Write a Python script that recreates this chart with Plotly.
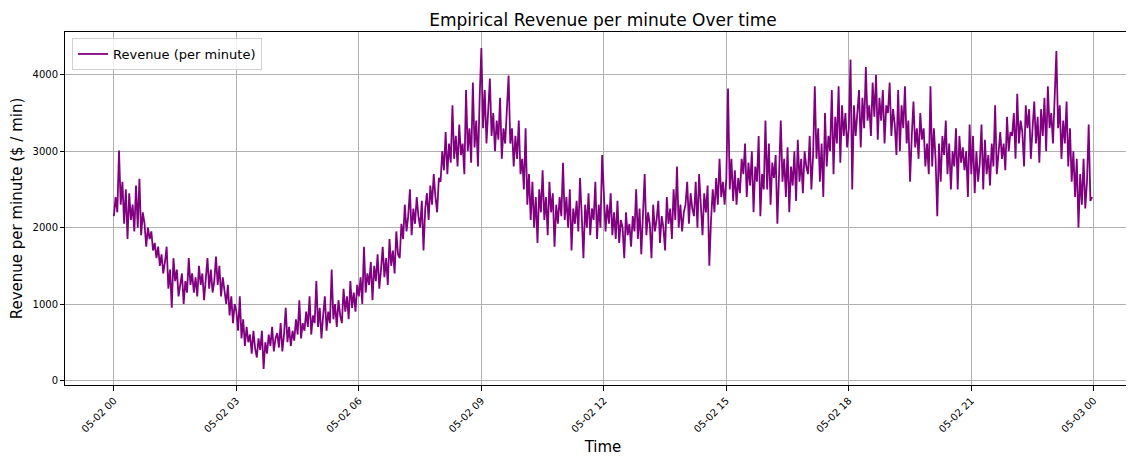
import pandas as pd
import plotly.graph_objects as go

# 2.5-minute samples (24 per hour)
h00 = [2150, 2400, 2200, 3010, 2300, 2600, 2050, 2500, 1850, 2450, 2100, 2300, 1950, 2550, 2000, 2640, 1900, 2200, 2050, 1750, 2000, 1850, 1950, 1700]
h01 = [1800, 1600, 1750, 1500, 1650, 1400, 1550, 1750, 1200, 1450, 950, 1600, 1300, 1450, 1100, 1250, 1400, 1000, 1300, 1150, 1600, 1250, 1400, 1150]
h02 = [1350, 1100, 1500, 1250, 1400, 1050, 1300, 1600, 1200, 1450, 1150, 1300, 1620, 1250, 1500, 1100, 1350, 1200, 1000, 1250, 850, 1100, 750, 1000]
h03 = [900, 650, 1100, 550, 800, 450, 700, 500, 600, 350, 650, 420, 300, 550, 400, 650, 150, 500, 350, 600, 450, 700, 380, 550]
h04 = [620, 430, 750, 380, 600, 950, 500, 700, 450, 650, 520, 800, 600, 1050, 550, 750, 650, 900, 700, 1100, 600, 850, 750, 1300]
h05 = [700, 950, 550, 850, 1100, 650, 900, 750, 1450, 800, 1000, 700, 1050, 850, 750, 1200, 900, 1100, 800, 1300, 950, 1150, 900, 1250]
h06 = [1100, 1350, 1000, 1750, 1150, 1400, 1250, 1550, 1050, 1500, 1300, 1650, 1200, 1450, 1750, 1350, 1600, 1250, 1850, 1500, 1700, 1400, 1950, 1650]
h07 = [1600, 2050, 1850, 2300, 1950, 2150, 2500, 1900, 2250, 2050, 2400, 2150, 2000, 2350, 1700, 2250, 2450, 2100, 2550, 2300, 2700, 2400, 2200, 2650]
h08 = [2600, 3000, 2750, 3250, 2700, 3100, 2850, 3600, 2900, 3200, 2800, 3350, 2950, 3100, 2700, 3800, 3000, 3300, 2850, 3900, 3050, 3400, 2800, 3700]
h09 = [4350, 3300, 3800, 3100, 3600, 3950, 3200, 3500, 3000, 3400, 3150, 3700, 2900, 3300, 3100, 3600, 3990, 3100, 3300, 2800, 3200, 2900, 3400, 2700]
h10 = [2900, 2500, 3300, 2300, 2700, 2100, 2600, 2000, 2400, 1800, 2500, 2200, 2750, 2100, 2400, 1900, 2600, 2200, 2450, 1750, 2300, 2050, 2400, 2150]
h11 = [2850, 2100, 2400, 2000, 2500, 1700, 2250, 2050, 2350, 1950, 2650, 2150, 1600, 2300, 2000, 2450, 1900, 2250, 2100, 2600, 1850, 2300, 2000, 2950]
h12 = [2400, 1950, 2300, 2050, 2450, 1900, 2200, 1850, 2350, 1800, 2100, 2000, 1600, 2200, 1900, 2050, 1750, 2150, 1950, 2500, 1850, 2250, 1650, 2100]
h13 = [2700, 1900, 2200, 2050, 1600, 2300, 1950, 2100, 2350, 1800, 2150, 2000, 1700, 2400, 2050, 2250, 1850, 2500, 2100, 2800, 2000, 2300, 1950, 2200]
h14 = [2300, 2600, 2050, 2450, 2250, 2150, 2600, 2000, 2700, 2300, 1900, 2450, 2200, 2550, 1500, 2100, 2500, 2200, 2650, 2300, 2900, 2400, 2600, 2300]
h15 = [2650, 3820, 2500, 2900, 2350, 2750, 2300, 2650, 2450, 2900, 2700, 3100, 2400, 2850, 2550, 3000, 2200, 2800, 2600, 3200, 2150, 2700, 2500, 3400]
h16 = [2500, 3100, 2300, 2850, 2650, 2950, 2050, 2700, 3400, 2600, 2900, 2400, 3050, 2200, 2800, 2550, 3000, 2350, 3150, 2600, 2900, 2450, 3000, 2800]
h17 = [2700, 3200, 2500, 2950, 3850, 2900, 3300, 2600, 3100, 2400, 3500, 2800, 3200, 3000, 3800, 2700, 3450, 3100, 3850, 2850, 3600, 3200, 3500, 3050]
h18 = [3300, 4200, 2500, 3600, 3200, 3500, 3800, 3050, 3700, 3300, 4100, 3400, 3600, 3200, 3900, 3450, 4000, 3150, 3700, 3400, 3800, 3100, 3600, 3500]
h19 = [3900, 3200, 3550, 3350, 2950, 3800, 3000, 3600, 3300, 3850, 3100, 3400, 2600, 3200, 3650, 3050, 3300, 2900, 3500, 3150, 3300, 2800, 3100, 2700]
h20 = [3850, 2800, 3300, 2900, 2150, 3100, 2600, 3200, 2950, 3400, 2700, 3100, 2500, 3000, 2800, 3300, 2500, 3200, 2850, 3050, 2750, 3000, 2400, 3350]
h21 = [2700, 3200, 2450, 3000, 2600, 2850, 3350, 2500, 3150, 2700, 2950, 2550, 3100, 2800, 3600, 2700, 3000, 3250, 2900, 3100, 2750, 3450, 3000, 3250]
h22 = [3200, 3500, 2900, 3750, 3100, 3400, 3250, 2800, 3600, 3300, 3550, 2900, 3300, 3650, 3100, 3450, 2850, 3550, 3200, 3700, 3000, 3850, 3300, 3500]
h23 = [3100, 3600, 4310, 3300, 3600, 2900, 3400, 3100, 3650, 2800, 3300, 2600, 3000, 2400, 2900, 2000, 2700, 2300, 2900, 2250, 2600, 3350, 2350, 2400]

revenue = (h00 + h01 + h02 + h03 + h04 + h05 + h06 + h07 + h08 + h09 + h10 + h11
           + h12 + h13 + h14 + h15 + h16 + h17 + h18 + h19 + h20 + h21 + h22 + h23)
times = pd.date_range("2024-05-02 00:00", periods=len(revenue), freq="150s")

tick_vals = pd.date_range("2024-05-02 00:00", "2024-05-03 00:00", freq="3h")
tick_text = [t.strftime("%m-%d %H") for t in tick_vals]

t0 = times[0]
t_end = times[-1]
span = t_end - t0
x_range = [t0 - span * 0.05, t_end + span * 0.05]
ymin, ymax = min(revenue), max(revenue)
yspan = ymax - ymin
y_range = [ymin - 0.05 * yspan, ymax + 0.05 * yspan]

fig = go.Figure()
fig.add_trace(go.Scatter(
    x=times, y=revenue, mode="lines", name="Revenue (per minute)",
    line=dict(color="#800080", width=1.8),
))

# page body adds an 8px offset; the reference's right edge of the axes is cropped off
W, H = 1134, 448
font = "DejaVu Sans, Arial, sans-serif"
fig.update_layout(
    width=W, height=H,
    margin=dict(l=57, r=1, t=24, b=71, autoexpand=False),
    paper_bgcolor="white", plot_bgcolor="white",
    font=dict(family=font, color="black", size=10),
    title=dict(text="Empirical Revenue per minute Over time", x=0.5, xanchor="center",
               xref="paper", yref="container", y=1 - 12 / H, yanchor="middle",
               font=dict(size=17)),
    showlegend=True,
    legend=dict(x=0.0065, y=0.983, xanchor="left", yanchor="top",
                bgcolor="rgba(255,255,255,0.8)", bordercolor="#d0d0d0", borderwidth=1,
                font=dict(size=13)),
)
fig.update_xaxes(
    range=x_range, tickvals=tick_vals, ticktext=tick_text, tickangle=-45,
    showgrid=True, gridcolor="#b0b0b0", gridwidth=1,
    showline=True, linecolor="black", linewidth=1, mirror=True,
    ticks="outside", ticklen=5, tickcolor="black", automargin=False,
    title=dict(text="Time", font=dict(size=15), standoff=8),
    zeroline=False,
)
fig.update_yaxes(
    range=y_range, tickvals=[0, 1000, 2000, 3000, 4000],
    showgrid=True, gridcolor="#b0b0b0", gridwidth=1,
    showline=True, linecolor="black", linewidth=1, mirror=True,
    ticks="outside", ticklen=4, tickcolor="black", automargin=False,
    title=dict(text="Revenue per minute ($ / min)", font=dict(size=15), standoff=8),
    zeroline=False,
)

fig.write_html("out.html")
